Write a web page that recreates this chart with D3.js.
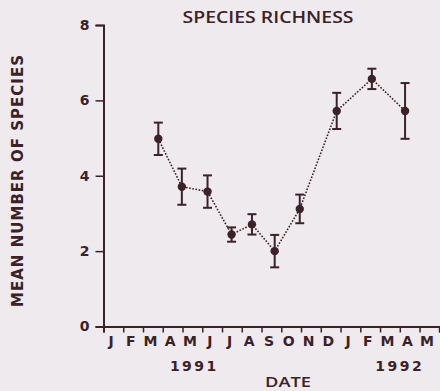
<!DOCTYPE html>
<html>
<head>
<meta charset="utf-8">
<script src="https://cdn.jsdelivr.net/npm/d3@7"></script>
<style>
  body { margin: 0; background: #efeaee; }
  svg { display: block; }
</style>
</head>
<body>
<div id="chart"></div>
<script>
// Data
const sampleDates = ['1991-03-25', '1991-04-30', '1991-06-09', '1991-07-16', '1991-08-17',
                     '1991-09-21', '1991-10-30', '1991-12-26', '1992-02-18', '1992-04-09']
const meanSpecies = [4.98, 3.71, 3.58, 2.44, 2.71, 2.00, 3.12, 5.72, 6.57, 5.72]
const stdError    = [0.43, 0.48, 0.43, 0.19, 0.27, 0.43, 0.38, 0.48, 0.27, 0.74]
const monthLabels = ['J','F','M','A','M','J','J','A','S','O','N','D','J','F','M','A','M']
const yearLabels  = [{ text: '1991', at: 4.6 }, { text: '1992', at: 15 }]
const yTicks = [0, 2, 4, 6, 8]

// month index counted from Jan 1991 (fractional)
const toMonth = s => {
  const d = new Date(s + 'T00:00:00')
  const days = new Date(d.getFullYear(), d.getMonth() + 1, 0).getDate()
  return (d.getFullYear() - 1991) * 12 + d.getMonth() + (d.getDate() - 1) / days
}

const data = sampleDates.map((s, i) => ({
  m: toMonth(s), mean: meanSpecies[i], se: stdError[i]
}))

// Dimensions
const width = 440, height = 391
const ink = '#3a2228'

const svg = d3.select('#chart')
  .append('svg')
  .attr('width', width)
  .attr('height', height)

// Scales
const xScale = d3.scaleLinear()
  .domain([0, 17])
  .range([103.5, 439.3])

const yScale = d3.scaleLinear()
  .domain([0, 8])
  .range([326.5, 25])

// Y axis
const yAxis = d3.axisLeft(yScale)
  .tickValues(yTicks)
  .tickSize(8)
  .tickPadding(6)

const yAxisGroup = svg.append('g')
  .attr('transform', `translate(${xScale(0)},0)`)
  .call(yAxis)
yAxisGroup.select('.domain').attr('stroke', ink).attr('stroke-width', 2)
yAxisGroup.selectAll('line').attr('stroke', ink).attr('stroke-width', 1.5)
yAxisGroup.selectAll('text')
  .attr('fill', ink)
  .attr('font-family', 'DejaVu Sans')
  .attr('font-weight', 'bold')
  .attr('font-size', '14px')

// X axis (month boundaries)
const xAxis = d3.axisBottom(xScale)
  .tickValues(d3.range(0, 18))
  .tickSize(6)
  .tickFormat('')

const xAxisGroup = svg.append('g')
  .attr('transform', `translate(0,${yScale(0)})`)
  .call(xAxis)
xAxisGroup.select('.domain').attr('stroke', ink).attr('stroke-width', 2)
xAxisGroup.selectAll('line').attr('stroke', ink).attr('stroke-width', 1.5)

// Month letters
svg.append('g')
  .selectAll('text')
  .data(monthLabels)
  .join('text')
  .attr('x', (d, i) => xScale(i + 0.38))
  .attr('y', 346)
  .attr('text-anchor', 'middle')
  .attr('fill', ink)
  .attr('font-family', 'DejaVu Sans')
  .attr('font-weight', 'bold')
  .attr('font-size', '14px')
  .text(d => d)

// Years
svg.append('g')
  .selectAll('text')
  .data(yearLabels)
  .join('text')
  .attr('x', d => xScale(d.at))
  .attr('y', 371)
  .attr('text-anchor', 'middle')
  .attr('fill', ink)
  .attr('font-family', 'DejaVu Sans')
  .attr('font-weight', 'bold')
  .attr('font-size', '14px')
  .attr('letter-spacing', '2.5px')
  .text(d => d.text)

// X label
svg.append('text')
  .attr('x', 288)
  .attr('y', 387)
  .attr('text-anchor', 'middle')
  .attr('fill', ink)
  .attr('font-family', 'Open Sans')
  .attr('font-weight', '600')
  .attr('font-size', '15px')
  .attr('textLength', 46)
  .attr('lengthAdjust', 'spacingAndGlyphs')
  .text('DATE')

// Y label
svg.append('text')
  .attr('transform', 'translate(23,181) rotate(-90)')
  .attr('text-anchor', 'middle')
  .attr('fill', ink)
  .attr('font-family', 'DejaVu Sans')
  .attr('font-weight', 'bold')
  .attr('font-size', '15px')
  .attr('textLength', 252)
  .attr('lengthAdjust', 'spacing')
  .text('MEAN NUMBER OF SPECIES')

// Title
svg.append('text')
  .attr('x', 268)
  .attr('y', 23)
  .attr('text-anchor', 'middle')
  .attr('fill', ink)
  .attr('font-family', 'Open Sans')
  .attr('font-weight', '600')
  .attr('font-size', '17px')
  .attr('textLength', 171)
  .attr('lengthAdjust', 'spacingAndGlyphs')
  .text('SPECIES   RICHNESS')

// Dotted line through the means
const line = d3.line()
  .x(d => xScale(d.m))
  .y(d => yScale(d.mean))

svg.append('path')
  .datum(data)
  .attr('d', line)
  .attr('fill', 'none')
  .attr('stroke', ink)
  .attr('stroke-width', 1.6)
  .attr('stroke-dasharray', '1.6,1.6')

// Error bars
const bars = svg.append('g')
  .selectAll('g')
  .data(data)
  .join('g')

bars.append('line')
  .attr('x1', d => xScale(d.m))
  .attr('x2', d => xScale(d.m))
  .attr('y1', d => yScale(d.mean - d.se))
  .attr('y2', d => yScale(d.mean + d.se))
  .attr('stroke', ink)
  .attr('stroke-width', 2)

bars.selectAll('.cap')
  .data(d => [d.mean - d.se, d.mean + d.se].map(v => ({ m: d.m, v })))
  .join('line')
  .attr('class', 'cap')
  .attr('x1', d => xScale(d.m) - 4.5)
  .attr('x2', d => xScale(d.m) + 4.5)
  .attr('y1', d => yScale(d.v))
  .attr('y2', d => yScale(d.v))
  .attr('stroke', ink)
  .attr('stroke-width', 2)

// Means
svg.append('g')
  .selectAll('circle')
  .data(data)
  .join('circle')
  .attr('cx', d => xScale(d.m))
  .attr('cy', d => yScale(d.mean))
  .attr('r', 4.2)
  .attr('fill', ink)
</script>
</body>
</html>
